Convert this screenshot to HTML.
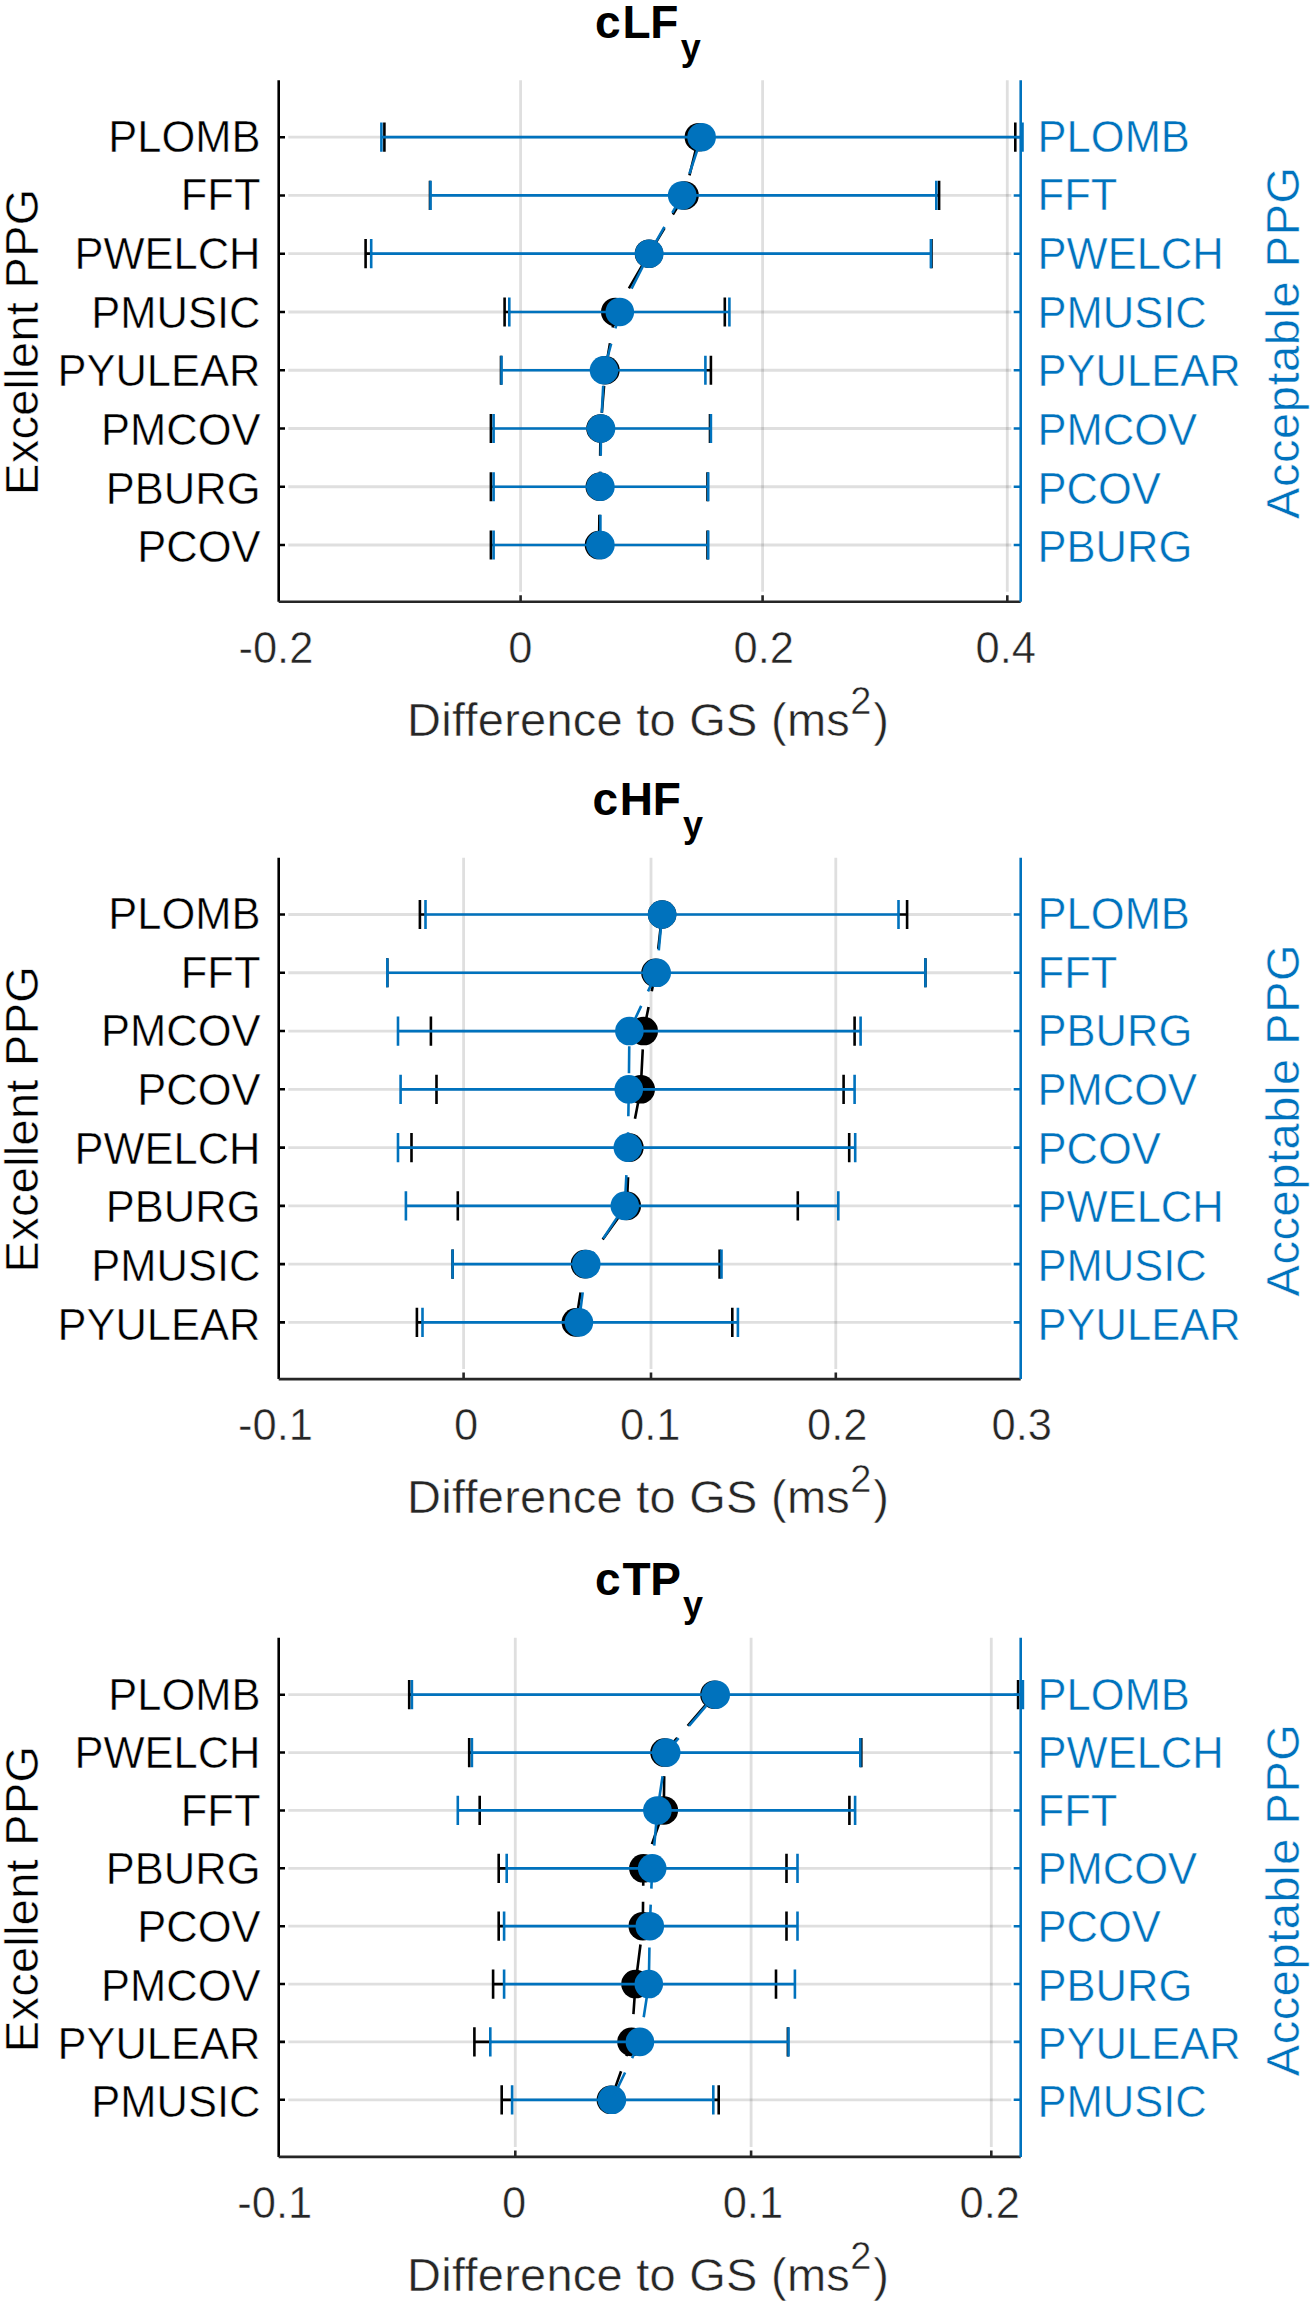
<!DOCTYPE html><html><head><meta charset="utf-8"><style>html,body{margin:0;padding:0;background:#fff;overflow:hidden}svg{display:block}text{stroke:#fff;stroke-width:0.5px}text.b{stroke:none}</style></head><body>
<svg width="1313" height="2305" viewBox="0 0 1313 2305" font-family="'Liberation Sans', sans-serif">
<rect width="1313" height="2305" fill="#fff"/>
<path d="M520.6 80.3V591.8M762.6 80.3V591.8M1007.3 80.3V591.8" stroke="#262626" stroke-opacity="0.15" stroke-width="2.8" fill="none"/>
<path d="M288.3 137.2H1011.3M288.3 195.46H1011.3M288.3 253.72H1011.3M288.3 311.98H1011.3M288.3 370.24H1011.3M288.3 428.5H1011.3M288.3 486.76H1011.3M288.3 545.02H1011.3" stroke="#262626" stroke-opacity="0.15" stroke-width="2.8" fill="none"/>
<path d="M520.6 601.8v-6.5M762.6 601.8v-6.5M1007.3 601.8v-6.5" stroke="#262626" stroke-width="2.6" fill="none"/>
<path d="M278.7 137.2h6.3M278.7 195.46h6.3M278.7 253.72h6.3M278.7 311.98h6.3M278.7 370.24h6.3M278.7 428.5h6.3M278.7 486.76h6.3M278.7 545.02h6.3" stroke="#000" stroke-width="2.6" fill="none"/>
<path d="M1020.7 137.2h-7M1020.7 195.46h-7M1020.7 253.72h-7M1020.7 311.98h-7M1020.7 370.24h-7M1020.7 428.5h-7M1020.7 486.76h-7M1020.7 545.02h-7" stroke="#0072BD" stroke-width="2.6" fill="none"/>
<polyline points="599,545.02 599.8,486.76 600.5,428.5 605.4,370.24 615.3,311.98 649,253.72 684.5,195.46 698.9,137.2" stroke="#000" stroke-width="2.6" fill="none" stroke-dasharray="27 16" stroke-dashoffset="39.7"/>
<path d="M935.3 195.46H939.1M365.6 253.72H372.2M929.9 253.72H931.5M504.6 311.98H510.3M704.4 370.24H710.9M490.9 428.5H494.6M490.9 486.76H494.6M490.9 545.02H494.6" stroke="#000" stroke-width="2.7" fill="none"/>
<path d="M384.4 122.6v29.2M1015.3 122.6v29.2M430 180.86v29.2M939.1 180.86v29.2M365.6 239.12v29.2M931.5 239.12v29.2M504.6 297.38v29.2M724.8 297.38v29.2M501 355.64v29.2M710.9 355.64v29.2M490.9 413.9v29.2M710 413.9v29.2M490.9 472.16v29.2M707.5 472.16v29.2M490.9 530.42v29.2M707.5 530.42v29.2" stroke="#000" stroke-width="2.6" fill="none"/>
<circle cx="698.9" cy="137.2" r="14.3" fill="#000"/>
<circle cx="684.5" cy="195.46" r="14.3" fill="#000"/>
<circle cx="649" cy="253.72" r="14.3" fill="#000"/>
<circle cx="615.3" cy="311.98" r="14.3" fill="#000"/>
<circle cx="605.4" cy="370.24" r="14.3" fill="#000"/>
<circle cx="600.5" cy="428.5" r="14.3" fill="#000"/>
<circle cx="599.8" cy="486.76" r="14.3" fill="#000"/>
<circle cx="599" cy="545.02" r="14.3" fill="#000"/>
<polyline points="600.4,545.02 600.4,486.76 601,428.5 604,370.24 619.8,311.98 649.2,253.72 682.2,195.46 701.6,137.2" stroke="#0072BD" stroke-width="2.6" fill="none" stroke-dasharray="27 16" stroke-dashoffset="39.7"/>
<path d="M381.4 137.2H1022.5M430.5 195.46H936.3M371.2 253.72H930.9M509.3 311.98H729.4M501.5 370.24H705.4M493.6 428.5H710.9M493.6 486.76H708.2M493.6 545.02H708.2" stroke="#0072BD" stroke-width="2.7" fill="none"/>
<path d="M381.4 122.6v29.2M1022.5 122.6v29.2M430.5 180.86v29.2M936.3 180.86v29.2M371.2 239.12v29.2M930.9 239.12v29.2M509.3 297.38v29.2M729.4 297.38v29.2M501.5 355.64v29.2M705.4 355.64v29.2M493.6 413.9v29.2M710.9 413.9v29.2M493.6 472.16v29.2M708.2 472.16v29.2M493.6 530.42v29.2M708.2 530.42v29.2" stroke="#0072BD" stroke-width="2.6" fill="none"/>
<circle cx="701.6" cy="137.2" r="14.3" fill="#0072BD"/>
<circle cx="682.2" cy="195.46" r="14.3" fill="#0072BD"/>
<circle cx="649.2" cy="253.72" r="14.3" fill="#0072BD"/>
<circle cx="619.8" cy="311.98" r="14.3" fill="#0072BD"/>
<circle cx="604" cy="370.24" r="14.3" fill="#0072BD"/>
<circle cx="601" cy="428.5" r="14.3" fill="#0072BD"/>
<circle cx="600.4" cy="486.76" r="14.3" fill="#0072BD"/>
<circle cx="600.4" cy="545.02" r="14.3" fill="#0072BD"/>
<path d="M278.7 80.3V601.8" stroke="#000" stroke-width="2.6" fill="none"/>
<path d="M278.7 601.8H1020.7" stroke="#262626" stroke-width="2.6" fill="none"/>
<path d="M1020.7 80.3V601.8" stroke="#0072BD" stroke-width="2.6" fill="none"/>
<text x="260.5" y="151.7" font-size="43.5" text-anchor="end" fill="#000">PLOMB</text>
<text x="1037.6" y="151.7" font-size="43.5" fill="#0072BD">PLOMB</text>
<text x="260.5" y="210.35" font-size="43.5" text-anchor="end" fill="#000">FFT</text>
<text x="1037.6" y="210.35" font-size="43.5" fill="#0072BD">FFT</text>
<text x="260.5" y="269" font-size="43.5" text-anchor="end" fill="#000">PWELCH</text>
<text x="1037.6" y="269" font-size="43.5" fill="#0072BD">PWELCH</text>
<text x="260.5" y="327.65" font-size="43.5" text-anchor="end" fill="#000">PMUSIC</text>
<text x="1037.6" y="327.65" font-size="43.5" fill="#0072BD">PMUSIC</text>
<text x="260.5" y="386.3" font-size="43.5" text-anchor="end" fill="#000">PYULEAR</text>
<text x="1037.6" y="386.3" font-size="43.5" fill="#0072BD">PYULEAR</text>
<text x="260.5" y="444.95" font-size="43.5" text-anchor="end" fill="#000">PMCOV</text>
<text x="1037.6" y="444.95" font-size="43.5" fill="#0072BD">PMCOV</text>
<text x="260.5" y="503.6" font-size="43.5" text-anchor="end" fill="#000">PBURG</text>
<text x="1037.6" y="503.6" font-size="43.5" fill="#0072BD">PCOV</text>
<text x="260.5" y="562.25" font-size="43.5" text-anchor="end" fill="#000">PCOV</text>
<text x="1037.6" y="562.25" font-size="43.5" fill="#0072BD">PBURG</text>
<text x="275.9" y="662.5" font-size="43.5" text-anchor="middle" fill="#262626">-0.2</text>
<text x="520.4" y="662.5" font-size="43.5" text-anchor="middle" fill="#262626">0</text>
<text x="763.7" y="662.5" font-size="43.5" text-anchor="middle" fill="#262626">0.2</text>
<text x="1005.8" y="662.5" font-size="43.5" text-anchor="middle" fill="#262626">0.4</text>
<text y="735.5" font-size="47" fill="#262626"><tspan x="407.1" textLength="442.7" lengthAdjust="spacing">Difference to GS (ms</tspan><tspan x="850.2" y="714" font-size="38">2</tspan><tspan x="873.3" y="735.5">)</tspan></text>
<text x="595" y="37.5" dx="0 1.8 -0.3" class="b" font-size="46" font-weight="bold" fill="#000">cLF</text>
<text x="680.8" y="59.5" class="b" font-size="36" font-weight="bold" fill="#000">y</text>
<text transform="translate(37.5 494.95) rotate(-90)" font-size="47" fill="#000" textLength="306.3" lengthAdjust="spacing">Excellent PPG</text>
<text transform="translate(1298.7 519) rotate(-90)" font-size="47" fill="#0072BD" textLength="352.2" lengthAdjust="spacing">Acceptable PPG</text>
<path d="M463.6 857.8V1369.1M651 857.8V1369.1M835.8 857.8V1369.1" stroke="#262626" stroke-opacity="0.15" stroke-width="2.8" fill="none"/>
<path d="M288.3 914.5H1011.3M288.3 972.77H1011.3M288.3 1031.04H1011.3M288.3 1089.31H1011.3M288.3 1147.58H1011.3M288.3 1205.85H1011.3M288.3 1264.12H1011.3M288.3 1322.39H1011.3" stroke="#262626" stroke-opacity="0.15" stroke-width="2.8" fill="none"/>
<path d="M463.6 1379.1v-6.5M651 1379.1v-6.5M835.8 1379.1v-6.5" stroke="#262626" stroke-width="2.6" fill="none"/>
<path d="M278.7 914.5h6.3M278.7 972.77h6.3M278.7 1031.04h6.3M278.7 1089.31h6.3M278.7 1147.58h6.3M278.7 1205.85h6.3M278.7 1264.12h6.3M278.7 1322.39h6.3" stroke="#000" stroke-width="2.6" fill="none"/>
<path d="M1020.7 914.5h-7M1020.7 972.77h-7M1020.7 1031.04h-7M1020.7 1089.31h-7M1020.7 1147.58h-7M1020.7 1205.85h-7M1020.7 1264.12h-7M1020.7 1322.39h-7" stroke="#0072BD" stroke-width="2.6" fill="none"/>
<polyline points="575.9,1322.39 585,1264.12 626.8,1205.85 629.4,1147.58 640.7,1089.31 643.7,1031.04 655.5,972.77 662.1,914.5" stroke="#000" stroke-width="2.6" fill="none" stroke-dasharray="27 16" stroke-dashoffset="39.7"/>
<path d="M419.9 914.5H426.5M897.5 914.5H907.1M416.9 1322.39H423.5" stroke="#000" stroke-width="2.7" fill="none"/>
<path d="M419.9 899.9v29.2M907.1 899.9v29.2M387.3 958.17v29.2M925.4 958.17v29.2M430.9 1016.44v29.2M854.6 1016.44v29.2M436.5 1074.71v29.2M843.6 1074.71v29.2M411.5 1132.98v29.2M849.2 1132.98v29.2M457.8 1191.25v29.2M797.8 1191.25v29.2M452.6 1249.52v29.2M719.6 1249.52v29.2M416.9 1307.79v29.2M732.3 1307.79v29.2" stroke="#000" stroke-width="2.6" fill="none"/>
<circle cx="662.1" cy="914.5" r="14.3" fill="#000"/>
<circle cx="655.5" cy="972.77" r="14.3" fill="#000"/>
<circle cx="643.7" cy="1031.04" r="14.3" fill="#000"/>
<circle cx="640.7" cy="1089.31" r="14.3" fill="#000"/>
<circle cx="629.4" cy="1147.58" r="14.3" fill="#000"/>
<circle cx="626.8" cy="1205.85" r="14.3" fill="#000"/>
<circle cx="585" cy="1264.12" r="14.3" fill="#000"/>
<circle cx="575.9" cy="1322.39" r="14.3" fill="#000"/>
<polyline points="578.9,1322.39 586.3,1264.12 624.8,1205.85 627.8,1147.58 628.8,1089.31 629.4,1031.04 656.7,972.77 662.1,914.5" stroke="#0072BD" stroke-width="2.6" fill="none" stroke-dasharray="27 16" stroke-dashoffset="39.7"/>
<path d="M425.5 914.5H898.5M387.3 972.77H925.4M398 1031.04H860.6M400.6 1089.31H854.6M398 1147.58H855.2M405.9 1205.85H838.3M452.6 1264.12H721.5M422.5 1322.39H737.9" stroke="#0072BD" stroke-width="2.7" fill="none"/>
<path d="M425.5 899.9v29.2M898.5 899.9v29.2M387.3 958.17v29.2M925.4 958.17v29.2M398 1016.44v29.2M860.6 1016.44v29.2M400.6 1074.71v29.2M854.6 1074.71v29.2M398 1132.98v29.2M855.2 1132.98v29.2M405.9 1191.25v29.2M838.3 1191.25v29.2M452.6 1249.52v29.2M721.5 1249.52v29.2M422.5 1307.79v29.2M737.9 1307.79v29.2" stroke="#0072BD" stroke-width="2.6" fill="none"/>
<circle cx="662.1" cy="914.5" r="14.3" fill="#0072BD"/>
<circle cx="656.7" cy="972.77" r="14.3" fill="#0072BD"/>
<circle cx="629.4" cy="1031.04" r="14.3" fill="#0072BD"/>
<circle cx="628.8" cy="1089.31" r="14.3" fill="#0072BD"/>
<circle cx="627.8" cy="1147.58" r="14.3" fill="#0072BD"/>
<circle cx="624.8" cy="1205.85" r="14.3" fill="#0072BD"/>
<circle cx="586.3" cy="1264.12" r="14.3" fill="#0072BD"/>
<circle cx="578.9" cy="1322.39" r="14.3" fill="#0072BD"/>
<path d="M278.7 857.8V1379.1" stroke="#000" stroke-width="2.6" fill="none"/>
<path d="M278.7 1379.1H1020.7" stroke="#262626" stroke-width="2.6" fill="none"/>
<path d="M1020.7 857.8V1379.1" stroke="#0072BD" stroke-width="2.6" fill="none"/>
<text x="260.5" y="929.1" font-size="43.5" text-anchor="end" fill="#000">PLOMB</text>
<text x="1037.6" y="929.1" font-size="43.5" fill="#0072BD">PLOMB</text>
<text x="260.5" y="987.74" font-size="43.5" text-anchor="end" fill="#000">FFT</text>
<text x="1037.6" y="987.74" font-size="43.5" fill="#0072BD">FFT</text>
<text x="260.5" y="1046.38" font-size="43.5" text-anchor="end" fill="#000">PMCOV</text>
<text x="1037.6" y="1046.38" font-size="43.5" fill="#0072BD">PBURG</text>
<text x="260.5" y="1105.02" font-size="43.5" text-anchor="end" fill="#000">PCOV</text>
<text x="1037.6" y="1105.02" font-size="43.5" fill="#0072BD">PMCOV</text>
<text x="260.5" y="1163.66" font-size="43.5" text-anchor="end" fill="#000">PWELCH</text>
<text x="1037.6" y="1163.66" font-size="43.5" fill="#0072BD">PCOV</text>
<text x="260.5" y="1222.3" font-size="43.5" text-anchor="end" fill="#000">PBURG</text>
<text x="1037.6" y="1222.3" font-size="43.5" fill="#0072BD">PWELCH</text>
<text x="260.5" y="1280.94" font-size="43.5" text-anchor="end" fill="#000">PMUSIC</text>
<text x="1037.6" y="1280.94" font-size="43.5" fill="#0072BD">PMUSIC</text>
<text x="260.5" y="1339.58" font-size="43.5" text-anchor="end" fill="#000">PYULEAR</text>
<text x="1037.6" y="1339.58" font-size="43.5" fill="#0072BD">PYULEAR</text>
<text x="275.5" y="1439.8" font-size="43.5" text-anchor="middle" fill="#262626">-0.1</text>
<text x="466" y="1439.8" font-size="43.5" text-anchor="middle" fill="#262626">0</text>
<text x="650.2" y="1439.8" font-size="43.5" text-anchor="middle" fill="#262626">0.1</text>
<text x="837.3" y="1439.8" font-size="43.5" text-anchor="middle" fill="#262626">0.2</text>
<text x="1021.8" y="1439.8" font-size="43.5" text-anchor="middle" fill="#262626">0.3</text>
<text y="1513" font-size="47" fill="#262626"><tspan x="407.1" textLength="442.7" lengthAdjust="spacing">Difference to GS (ms</tspan><tspan x="850.2" y="1491.5" font-size="38">2</tspan><tspan x="873.3" y="1513">)</tspan></text>
<text x="592.4" y="815" dx="0 1.8 -0.3" class="b" font-size="46" font-weight="bold" fill="#000">cHF</text>
<text x="682.9" y="837" class="b" font-size="36" font-weight="bold" fill="#000">y</text>
<text transform="translate(37.5 1272.45) rotate(-90)" font-size="47" fill="#000" textLength="306.3" lengthAdjust="spacing">Excellent PPG</text>
<text transform="translate(1298.7 1296.5) rotate(-90)" font-size="47" fill="#0072BD" textLength="352.2" lengthAdjust="spacing">Acceptable PPG</text>
<path d="M515.3 1637.8V2146.9M751.1 1637.8V2146.9M991.3 1637.8V2146.9" stroke="#262626" stroke-opacity="0.15" stroke-width="2.8" fill="none"/>
<path d="M288.3 1694.7H1011.3M288.3 1752.57H1011.3M288.3 1810.44H1011.3M288.3 1868.31H1011.3M288.3 1926.18H1011.3M288.3 1984.05H1011.3M288.3 2041.92H1011.3M288.3 2099.79H1011.3" stroke="#262626" stroke-opacity="0.15" stroke-width="2.8" fill="none"/>
<path d="M515.3 2156.9v-6.5M751.1 2156.9v-6.5M991.3 2156.9v-6.5" stroke="#262626" stroke-width="2.6" fill="none"/>
<path d="M278.7 1694.7h6.3M278.7 1752.57h6.3M278.7 1810.44h6.3M278.7 1868.31h6.3M278.7 1926.18h6.3M278.7 1984.05h6.3M278.7 2041.92h6.3M278.7 2099.79h6.3" stroke="#000" stroke-width="2.6" fill="none"/>
<path d="M1020.7 1694.7h-7M1020.7 1752.57h-7M1020.7 1810.44h-7M1020.7 1868.31h-7M1020.7 1926.18h-7M1020.7 1984.05h-7M1020.7 2041.92h-7M1020.7 2099.79h-7" stroke="#0072BD" stroke-width="2.6" fill="none"/>
<polyline points="610.9,2099.79 631.5,2041.92 635.5,1984.05 642.8,1926.18 643.4,1868.31 663.8,1810.44 664.5,1752.57 714.5,1694.7" stroke="#000" stroke-width="2.6" fill="none" stroke-dasharray="27 16" stroke-dashoffset="39.7"/>
<path d="M409.2 1694.7H412.9M469.2 1752.57H472.9M859.3 1752.57H861.3M498.7 1868.31H507.7M498.7 1926.18H505.1M493.1 1984.05H505.1M474.4 2041.92H491.3M501.7 2099.79H513.1M712.3 2099.79H718.7" stroke="#000" stroke-width="2.7" fill="none"/>
<path d="M409.2 1680.1v29.2M1018.1 1680.1v29.2M469.2 1737.97v29.2M861.3 1737.97v29.2M479.7 1795.84v29.2M849.4 1795.84v29.2M498.7 1853.71v29.2M786.5 1853.71v29.2M498.7 1911.58v29.2M786.5 1911.58v29.2M493.1 1969.45v29.2M776 1969.45v29.2M474.4 2027.32v29.2M787.9 2027.32v29.2M501.7 2085.19v29.2M718.7 2085.19v29.2" stroke="#000" stroke-width="2.6" fill="none"/>
<circle cx="714.5" cy="1694.7" r="14.3" fill="#000"/>
<circle cx="664.5" cy="1752.57" r="14.3" fill="#000"/>
<circle cx="663.8" cy="1810.44" r="14.3" fill="#000"/>
<circle cx="643.4" cy="1868.31" r="14.3" fill="#000"/>
<circle cx="642.8" cy="1926.18" r="14.3" fill="#000"/>
<circle cx="635.5" cy="1984.05" r="14.3" fill="#000"/>
<circle cx="631.5" cy="2041.92" r="14.3" fill="#000"/>
<circle cx="610.9" cy="2099.79" r="14.3" fill="#000"/>
<polyline points="611.9,2099.79 639.9,2041.92 648.8,1984.05 649.8,1926.18 652.2,1868.31 657.4,1810.44 666.2,1752.57 715.7,1694.7" stroke="#0072BD" stroke-width="2.6" fill="none" stroke-dasharray="27 16" stroke-dashoffset="39.7"/>
<path d="M411.9 1694.7H1022.9M471.9 1752.57H860.3M457.8 1810.44H855.1M506.7 1868.31H797.5M504.1 1926.18H797.5M504.1 1984.05H794.9M490.3 2041.92H788.5M512.1 2099.79H713.3" stroke="#0072BD" stroke-width="2.7" fill="none"/>
<path d="M411.9 1680.1v29.2M1022.9 1680.1v29.2M471.9 1737.97v29.2M860.3 1737.97v29.2M457.8 1795.84v29.2M855.1 1795.84v29.2M506.7 1853.71v29.2M797.5 1853.71v29.2M504.1 1911.58v29.2M797.5 1911.58v29.2M504.1 1969.45v29.2M794.9 1969.45v29.2M490.3 2027.32v29.2M788.5 2027.32v29.2M512.1 2085.19v29.2M713.3 2085.19v29.2" stroke="#0072BD" stroke-width="2.6" fill="none"/>
<circle cx="715.7" cy="1694.7" r="14.3" fill="#0072BD"/>
<circle cx="666.2" cy="1752.57" r="14.3" fill="#0072BD"/>
<circle cx="657.4" cy="1810.44" r="14.3" fill="#0072BD"/>
<circle cx="652.2" cy="1868.31" r="14.3" fill="#0072BD"/>
<circle cx="649.8" cy="1926.18" r="14.3" fill="#0072BD"/>
<circle cx="648.8" cy="1984.05" r="14.3" fill="#0072BD"/>
<circle cx="639.9" cy="2041.92" r="14.3" fill="#0072BD"/>
<circle cx="611.9" cy="2099.79" r="14.3" fill="#0072BD"/>
<path d="M278.7 1637.8V2156.9" stroke="#000" stroke-width="2.6" fill="none"/>
<path d="M278.7 2156.9H1020.7" stroke="#262626" stroke-width="2.6" fill="none"/>
<path d="M1020.7 1637.8V2156.9" stroke="#0072BD" stroke-width="2.6" fill="none"/>
<text x="260.5" y="1709.55" font-size="43.5" text-anchor="end" fill="#000">PLOMB</text>
<text x="1037.6" y="1709.55" font-size="43.5" fill="#0072BD">PLOMB</text>
<text x="260.5" y="1767.74" font-size="43.5" text-anchor="end" fill="#000">PWELCH</text>
<text x="1037.6" y="1767.74" font-size="43.5" fill="#0072BD">PWELCH</text>
<text x="260.5" y="1825.93" font-size="43.5" text-anchor="end" fill="#000">FFT</text>
<text x="1037.6" y="1825.93" font-size="43.5" fill="#0072BD">FFT</text>
<text x="260.5" y="1884.12" font-size="43.5" text-anchor="end" fill="#000">PBURG</text>
<text x="1037.6" y="1884.12" font-size="43.5" fill="#0072BD">PMCOV</text>
<text x="260.5" y="1942.31" font-size="43.5" text-anchor="end" fill="#000">PCOV</text>
<text x="1037.6" y="1942.31" font-size="43.5" fill="#0072BD">PCOV</text>
<text x="260.5" y="2000.5" font-size="43.5" text-anchor="end" fill="#000">PMCOV</text>
<text x="1037.6" y="2000.5" font-size="43.5" fill="#0072BD">PBURG</text>
<text x="260.5" y="2058.69" font-size="43.5" text-anchor="end" fill="#000">PYULEAR</text>
<text x="1037.6" y="2058.69" font-size="43.5" fill="#0072BD">PYULEAR</text>
<text x="260.5" y="2116.88" font-size="43.5" text-anchor="end" fill="#000">PMUSIC</text>
<text x="1037.6" y="2116.88" font-size="43.5" fill="#0072BD">PMUSIC</text>
<text x="274.7" y="2217.6" font-size="43.5" text-anchor="middle" fill="#262626">-0.1</text>
<text x="514.2" y="2217.6" font-size="43.5" text-anchor="middle" fill="#262626">0</text>
<text x="752.9" y="2217.6" font-size="43.5" text-anchor="middle" fill="#262626">0.1</text>
<text x="989.8" y="2217.6" font-size="43.5" text-anchor="middle" fill="#262626">0.2</text>
<text y="2290.5" font-size="47" fill="#262626"><tspan x="407.1" textLength="442.7" lengthAdjust="spacing">Difference to GS (ms</tspan><tspan x="850.2" y="2269" font-size="38">2</tspan><tspan x="873.3" y="2290.5">)</tspan></text>
<text x="595.1" y="1595" dx="0 1.8 -0.3" class="b" font-size="46" font-weight="bold" fill="#000">cTP</text>
<text x="682.9" y="1617" class="b" font-size="36" font-weight="bold" fill="#000">y</text>
<text transform="translate(37.5 2052.2) rotate(-90)" font-size="47" fill="#000" textLength="306.3" lengthAdjust="spacing">Excellent PPG</text>
<text transform="translate(1298.7 2076.25) rotate(-90)" font-size="47" fill="#0072BD" textLength="352.2" lengthAdjust="spacing">Acceptable PPG</text>
</svg></body></html>
